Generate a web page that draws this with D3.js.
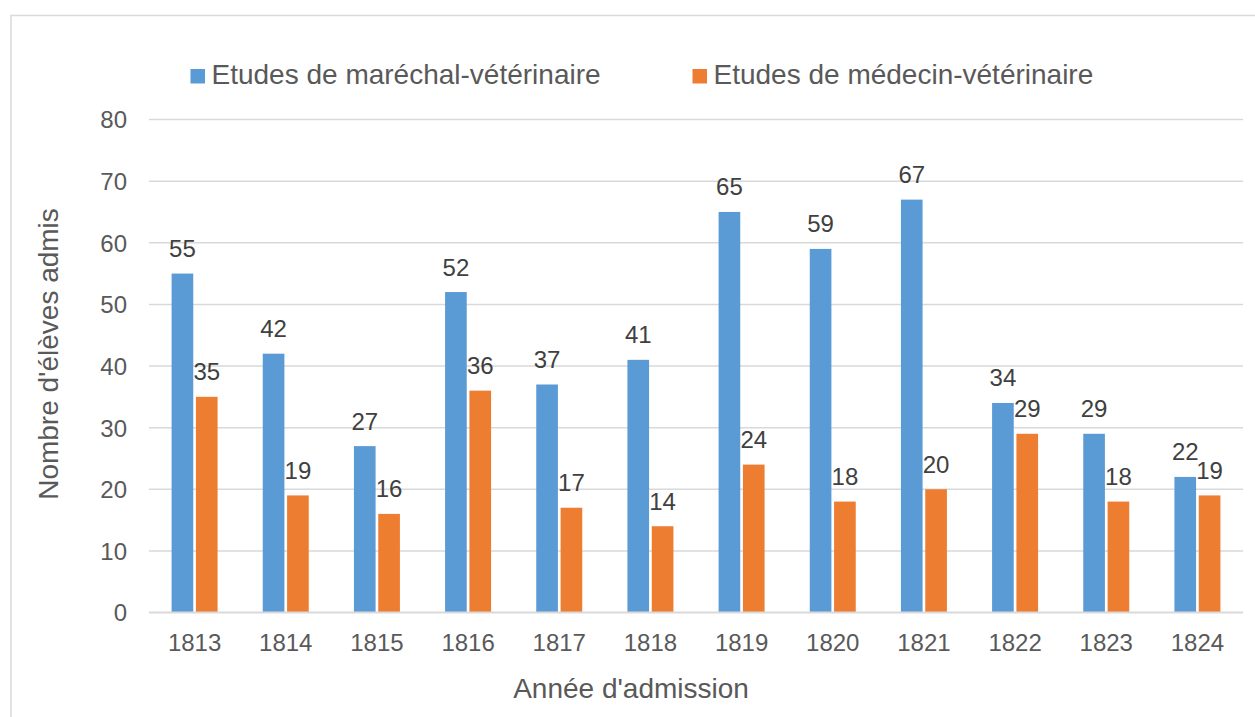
<!DOCTYPE html>
<html><head><meta charset="utf-8">
<script src="https://cdn.jsdelivr.net/npm/d3@7"></script>
<style>html,body{margin:0;padding:0;background:#fff;}svg{display:block;font-family:"Liberation Sans",Arial,sans-serif;}</style>
</head><body>
<script>
const years = ["1813","1814","1815","1816","1817","1818","1819","1820","1821","1822","1823","1824"];
const seriesNames = ["Etudes de maréchal-vétérinaire","Etudes de médecin-vétérinaire"];
const marechal = [55,42,27,52,37,41,65,59,67,34,29,22];
const medecin = [35,19,16,36,17,14,24,18,20,29,18,19];
const colors = ["#5B9BD5","#ED7D31"];
const yTicks = [0,10,20,30,40,50,60,70,80];
const xTitle = "Année d'admission";
const yTitle = "Nombre d'élèves admis";

const W = 1255, H = 717;
const svg = d3.select("body").append("svg").attr("width", W).attr("height", H);

// chart border
svg.append("rect").attr("x", 11).attr("y", 15.5).attr("width", 1300).attr("height", 800)
  .attr("fill", "none").attr("stroke", "#d9d9d9").attr("stroke-width", 1.5);

const plot = {left:149, right:1243, top:119.5, bottom:612.5};
const y = d3.scaleLinear().domain([0,80]).range([plot.bottom, plot.top]);
const x0 = d3.scaleBand().domain(years).range([plot.left, plot.right]).padding(0);
const groupW = 46;
const x1 = d3.scaleBand().domain([0,1]).range([0, groupW]).paddingInner(0.11);
const offset = (x0.bandwidth() - groupW) / 2;

// gridlines
svg.append("g").selectAll("line").data(yTicks.filter(d => d > 0)).join("line")
  .attr("x1", plot.left).attr("x2", plot.right)
  .attr("y1", d => y(d)).attr("y2", d => y(d))
  .attr("stroke", "#d9d9d9").attr("stroke-width", 1.5);

// y axis labels
const yAxis = d3.axisLeft(y).tickValues(yTicks).tickSize(0).tickPadding(0);
const gy = svg.append("g").attr("transform", `translate(${plot.left - 22},0)`).call(yAxis);
gy.select(".domain").remove();
gy.selectAll("text").attr("font-size", 24).attr("fill", "#595959")
  .attr("font-family", "Liberation Sans, Arial, sans-serif").attr("dy", "0.35em");

// bars
const series = [marechal, medecin];
series.forEach((vals, si) => {
  svg.append("g").selectAll("rect").data(vals).join("rect")
    .attr("x", (d, i) => x0(years[i]) + offset + x1(si))
    .attr("y", d => y(d))
    .attr("width", x1.bandwidth())
    .attr("height", d => y(0) - y(d))
    .attr("fill", colors[si]);
  svg.append("g").selectAll("text").data(vals).join("text")
    .attr("x", (d, i) => x0(years[i]) + offset + x1(si) + x1.bandwidth() / 2)
    .attr("y", d => y(d) - 16.5)
    .attr("text-anchor", "middle").attr("font-size", 24).attr("fill", "#404040")
    .text(d => d);
});

// x axis line
svg.append("line").attr("x1", plot.left).attr("x2", plot.right)
  .attr("y1", y(0)).attr("y2", y(0)).attr("stroke", "#d9d9d9").attr("stroke-width", 1.8);

// x axis labels
const xAxis = d3.axisBottom(x0).tickSize(0).tickPadding(0);
const gx = svg.append("g").attr("transform", `translate(0,${y(0)})`).call(xAxis);
gx.select(".domain").remove();
gx.selectAll("text").attr("font-size", 24).attr("fill", "#595959")
  .attr("font-family", "Liberation Sans, Arial, sans-serif").attr("dy", null).attr("y", 38.5);

// axis titles
svg.append("text").attr("x", 631).attr("y", 697.5).attr("text-anchor", "middle")
  .attr("font-size", 28).attr("fill", "#595959").text(xTitle);
svg.append("text").attr("transform", `translate(58,354) rotate(-90)`).attr("text-anchor", "middle")
  .attr("font-size", 28).attr("fill", "#595959").text(yTitle);

// legend
const legendX = [190.5, 692.5];
seriesNames.forEach((name, i) => {
  svg.append("rect").attr("x", legendX[i]).attr("y", 69).attr("width", 14.5).attr("height", 14.5).attr("fill", colors[i]);
  svg.append("text").attr("x", legendX[i] + 21).attr("y", 83.5).attr("font-size", 28).attr("fill", "#595959").text(name);
});
</script>
</body></html>
